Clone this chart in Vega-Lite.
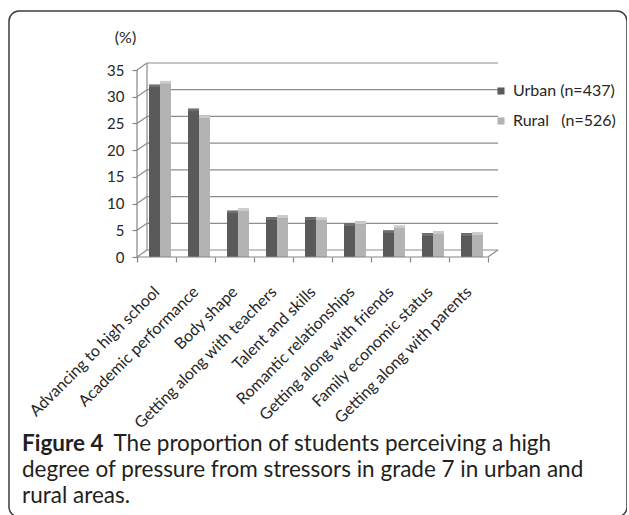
{
  "$schema": "https://vega.github.io/schema/vega-lite/v6.json",
  "width": 618,
  "height": 506,
  "autosize": "none",
  "padding": {"left": 9, "top": 11, "right": 0, "bottom": 0},
  "background": "white",
  "config": {
    "view": {"stroke": "#3c3c3c", "strokeWidth": 1.5, "cornerRadius": 10},
    "font": "Lato"
  },
  "datasets": {
    "bars": [
      {"category": "Advancing to high school", "area": "Urban", "value": 31.7},
      {"category": "Advancing to high school", "area": "Rural", "value": 32.4},
      {"category": "Academic performance", "area": "Urban", "value": 27.2},
      {"category": "Academic performance", "area": "Rural", "value": 25.9},
      {"category": "Body shape", "area": "Urban", "value": 8.1},
      {"category": "Body shape", "area": "Rural", "value": 8.5},
      {"category": "Getting along with teachers", "area": "Urban", "value": 6.9},
      {"category": "Getting along with teachers", "area": "Rural", "value": 7.2},
      {"category": "Talent and skills", "area": "Urban", "value": 6.9},
      {"category": "Talent and skills", "area": "Rural", "value": 6.8},
      {"category": "Romantic relationships", "area": "Urban", "value": 5.8},
      {"category": "Romantic relationships", "area": "Rural", "value": 6.1},
      {"category": "Getting along with friends", "area": "Urban", "value": 4.4},
      {"category": "Getting along with friends", "area": "Rural", "value": 5.3},
      {"category": "Family economic status", "area": "Urban", "value": 3.9},
      {"category": "Family economic status", "area": "Rural", "value": 4.3},
      {"category": "Getting along with parents", "area": "Urban", "value": 3.9},
      {"category": "Getting along with parents", "area": "Rural", "value": 4.0}
    ],
    "grid": [{"v": 0}, {"v": 5}, {"v": 10}, {"v": 15}, {"v": 20}, {"v": 25}, {"v": 30}, {"v": 35}]
  },
  "title": {
    "text": "Figure 4",
    "subtitle": [
      "\u200b\u00a0\u00a0\u00a0\u00a0\u00a0\u00a0\u00a0\u00a0\u00a0\u00a0\u00a0\u00a0\u00a0\u00a0\u00a0\u00a0The proportion of students perceiving a high",
      "degree of pressure from stressors in grade 7 in urban and",
      "rural areas."
    ],
    "orient": "top",
    "anchor": "start",
    "frame": "group",
    "font": "Lato",
    "fontSize": 22.5,
    "fontWeight": "bold",
    "color": "#231f20",
    "subtitleFont": "Lato",
    "subtitleFontSize": 22.5,
    "subtitleFontWeight": "normal",
    "subtitleColor": "#231f20",
    "subtitleLineHeight": 26,
    "subtitlePadding": -22.5,
    "offset": 0,
    "dx": 13,
    "dy": 496
  },
  "layer": [
    {
      "data": {"name": "grid"},
      "mark": {"type": "rule", "color": "#8c8c8c", "strokeWidth": 1.2, "xOffset": 10, "x2Offset": 10, "yOffset": -7},
      "encoding": {
        "y": {
          "field": "v", "type": "quantitative", "title": "(%)",
          "scale": {"domain": [0, 35], "range": [246, 59], "nice": false, "zero": false},
          "axis": {
            "orient": "left", "offset": -128, "values": [0, 5, 10, 15, 20, 25, 30, 35],
            "domain": false, "grid": false, "tickColor": "#868686", "tickSize": 5, "tickWidth": 1.2,
            "labelFont": "Lato", "labelFontSize": 15, "labelColor": "#262626", "labelPadding": 8,
            "title": "(%)", "titleAngle": 0, "titleFont": "Lato", "titleFontSize": 16, "titleFontWeight": "normal",
            "titleColor": "#262626", "titleX": -12, "titleY": 26, "titleAlign": "center", "titleBaseline": "middle"
          }
        },
        "x": {"datum": "Advancing to high school", "type": "nominal", "bandPosition": 0, "title": null},
        "x2": {"datum": "Getting along with parents", "bandPosition": 1}
      }
    },
    {
      "data": {"name": "grid"},
      "mark": {"type": "point", "shape": "M0,0L2,-1.4", "size": 100, "filled": false, "stroke": "#8c8c8c", "strokeWidth": 1.2, "opacity": 1},
      "encoding": {
        "y": {"field": "v", "type": "quantitative", "title": "(%)"},
        "x": {"datum": "Advancing to high school", "type": "nominal", "bandPosition": 0, "title": null}
      }
    },
    {
      "data": {"values": [{}]},
      "mark": {"type": "rule", "color": "#8c8c8c", "strokeWidth": 1.2, "xOffset": 10, "yOffset": -7, "y2Offset": -7},
      "encoding": {
        "x": {"datum": "Advancing to high school", "type": "nominal", "bandPosition": 0, "title": null},
        "y": {"datum": 0, "type": "quantitative", "title": "(%)"},
        "y2": {"datum": 35}
      }
    },
    {
      "data": {"values": [{}]},
      "mark": {"type": "point", "shape": "M0,0L2,-1.4", "size": 100, "filled": false, "stroke": "#8c8c8c", "strokeWidth": 1.2, "opacity": 1},
      "encoding": {
        "x": {"datum": "Getting along with parents", "type": "nominal", "bandPosition": 1, "title": null},
        "y": {"datum": 0, "type": "quantitative", "title": "(%)"}
      }
    },
    {
      "data": {"name": "bars"},
      "mark": {"type": "bar", "xOffset": 3, "yOffset": -3, "y2Offset": -3},
      "encoding": {
        "x": {"field": "category", "type": "nominal", "title": null},
        "xOffset": {"field": "area", "type": "nominal", "scale": {"domain": ["Urban", "Rural"]}},
        "y": {"field": "value", "type": "quantitative", "title": "(%)"},
        "y2": {"datum": 0},
        "color": {"field": "area", "type": "nominal", "scale": {"domain": ["Urban", "Rural"], "range": ["#3e3e3e", "#8e8e8e"]}, "legend": null}
      }
    },
    {
      "data": {"name": "bars"},
      "mark": {"type": "bar", "xOffset": 1.5, "yOffset": -3},
      "encoding": {
        "x": {"field": "category", "type": "nominal", "title": null},
        "xOffset": {"field": "area", "type": "nominal"},
        "y": {"field": "value", "type": "quantitative", "title": "(%)"},
        "y2": {"field": "value"},
        "color": {"field": "area", "type": "nominal", "scale": {"domain": ["Urban", "Rural"], "range": ["#707070", "#cbcbcb"]}, "legend": null}
      }
    },
    {
      "data": {"name": "bars"},
      "mark": {"type": "bar"},
      "encoding": {
        "x": {
          "field": "category", "type": "nominal", "title": null,
          "scale": {
            "domain": ["Advancing to high school", "Academic performance", "Body shape", "Getting along with teachers", "Talent and skills", "Romantic relationships", "Getting along with friends", "Family economic status", "Getting along with parents"],
            "range": [128, 479], "paddingInner": 0, "paddingOuter": 0
          },
          "axis": {
            "orient": "bottom", "offset": -260, "domain": false, "tickBand": "extent",
            "tickColor": "#868686", "tickSize": 5, "tickWidth": 1.2,
            "labelAngle": -45, "labelFont": "Lato", "labelFontSize": 16, "labelColor": "#262626",
            "labelPadding": 27, "labelLimit": 400, "labelOverlap": false, "labelBound": false, "title": null
          }
        },
        "xOffset": {"field": "area", "type": "nominal", "scale": {"domain": ["Urban", "Rural"], "paddingInner": 0, "paddingOuter": 0.7727, "align": 0.706}},
        "y": {"field": "value", "type": "quantitative", "title": "(%)"},
        "y2": {"datum": 0},
        "color": {
          "field": "area", "type": "nominal",
          "scale": {"domain": ["Urban", "Rural"], "range": ["#5a5a5a", "#b3b3b3"]},
          "legend": {
            "orient": "none", "legendX": 484, "legendY": 72, "title": null,
            "symbolType": "square", "symbolSize": 50, "symbolStrokeWidth": 0,
            "labelFont": "Lato", "labelFontSize": 16, "labelColor": "#262626", "rowPadding": 14, "labelOffset": 4,
            "labelExpr": "datum.label == 'Urban' ? 'Urban (n=437)' : 'Rural\u00a0\u00a0\u00a0(n=526)'"
          }
        }
      }
    },
    {
      "data": {"values": [{}]},
      "mark": {"type": "rule", "color": "#868686", "strokeWidth": 1.2},
      "encoding": {
        "x": {"datum": "Advancing to high school", "type": "nominal", "bandPosition": 0, "title": null},
        "y": {"datum": 0, "type": "quantitative", "title": "(%)"},
        "y2": {"datum": 35}
      }
    },
    {
      "data": {"values": [{}]},
      "mark": {"type": "rule", "color": "#868686", "strokeWidth": 1.2},
      "encoding": {
        "x": {"datum": "Advancing to high school", "type": "nominal", "bandPosition": 0, "title": null},
        "x2": {"datum": "Getting along with parents", "bandPosition": 1},
        "y": {"datum": 0, "type": "quantitative", "title": "(%)"}
      }
    }
  ],
  "resolve": {"scale": {"color": "independent"}}
}
